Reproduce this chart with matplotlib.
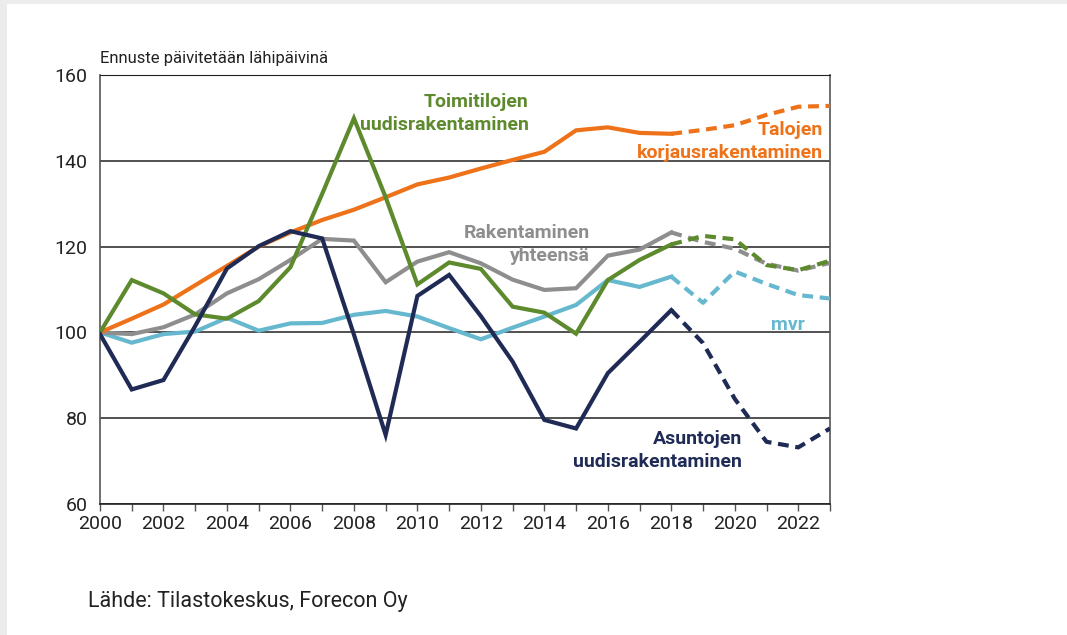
import numpy as np
import matplotlib.pyplot as plt
from matplotlib.patches import Rectangle

plt.rcParams['font.family'] = ['Roboto', 'DejaVu Sans']

# data, index 2000 = 100
years = list(range(2000, 2024))
last_actual = 2018

talojen_korjaus = [100, 103.2, 106.5, 111, 115.5, 120, 123.3, 126.2, 128.6, 131.5,
                   134.5, 136.1, 138.2, 140.2, 142.1, 147.1, 147.8, 146.5, 146.3,
                   147.2, 148.3, 150.7, 152.6, 152.8]
toimitilojen = [100, 112.2, 109.1, 104.2, 103.2, 107.3, 115.2, 132.3, 149.9, 131.5,
                111.2, 116.3, 114.8, 106.0, 104.6, 99.7, 112.2, 116.9, 120.5,
                122.5, 121.7, 115.7, 114.5, 116.7]
yhteensa = [100, 99.6, 101.2, 104.2, 109.1, 112.4, 116.9, 121.8, 121.4, 111.7,
            116.5, 118.7, 116.1, 112.3, 109.9, 110.3, 117.9, 119.3, 123.3,
            121.1, 119.5, 116.0, 114.4, 116.2]
mvr = [100, 97.6, 99.6, 100.2, 103.4, 100.4, 102.1, 102.2, 104.1, 105.0,
       103.7, 101.0, 98.4, 101.1, 103.7, 106.4, 112.2, 110.6, 113.0,
       106.9, 114.2, 111.3, 108.7, 107.9]
asuntojen = [99.6, 86.7, 88.9, 101.5, 114.9, 120.1, 123.6, 121.9, 99.5, 76.1,
             108.5, 113.4, 103.8, 93.2, 79.6, 77.6, 90.5, 97.8, 105.2,
             97.5, 84.5, 74.5, 73.2, 77.6]

series = [
    (mvr, '#66b8cf'),
    (yhteensa, '#8e8e8e'),
    (talojen_korjaus, '#ee7219'),
    (toimitilojen, '#5e8a2e'),
    (asuntojen, '#1f2b55'),
]

fig = plt.figure(figsize=(10.67, 6.35), dpi=100)
fig.patch.set_facecolor('#ececec')
bg = Rectangle((7 / 1067, 0), 1, 1 - 4 / 635, transform=fig.transFigure,
               facecolor='white', edgecolor='none', zorder=-10)
fig.add_artist(bg)

ax = fig.add_axes([100 / 1067, 1 - 504 / 635, 730 / 1067, 429 / 635])
ax.set_facecolor('white')

x = np.array(years)
k = years.index(last_actual)
for vals, col in series:
    v = np.array(vals)
    ax.plot(x[:k + 1], v[:k + 1], color=col, lw=3, solid_joinstyle='miter', zorder=3)
    ax.plot(x[k:], v[k:], color=col, lw=3, dashes=(2.6, 1.6), zorder=3)

ax.set_xlim(2000, 2023)
ax.set_ylim(60, 160)
ax.set_yticks([60, 80, 100, 120, 140, 160])
ax.set_xticks(range(2000, 2023, 2))
ax.set_xticks(range(2000, 2024), minor=True)
ax.grid(axis='y', color='#222222', lw=1.1, zorder=1)
ax.tick_params(axis='y', length=0, labelsize=14, pad=9, colors='#222222')
ax.tick_params(axis='x', which='both', length=5, width=1, color='#555555',
               labelsize=14, pad=3, labelcolor='#222222')
for s in ['left', 'right', 'bottom']:
    ax.spines[s].set_color('#555555')
    ax.spines[s].set_linewidth(1.2)
ax.spines['top'].set_color('#222222')
ax.spines['bottom'].set_color('#222222')

# series labels
bold = dict(fontsize=14, fontweight='bold', linespacing=1.35, ha='right', va='center')
ax.text(2013.5, 151.0, 'Toimitilojen\nuudisrakentaminen', color='#5e8a2e', **bold)
ax.text(2022.78, 144.5, 'Talojen\nkorjausrakentaminen', color='#ee7219', **bold)
ax.text(2015.44, 120.5, 'Rakentaminen\nyhteensä', color='#8e8e8e', **bold)
ax.text(2022.2, 101.7, 'mvr', color='#66b8cf', **bold)
ax.text(2020.23, 72.4, 'Asuntojen\nuudisrakentaminen', color='#1f2b55', **bold)

fig.text(100 / 1067, 1 - 58 / 635, 'Ennuste päivitetään lähipäivinä', fontsize=12,
         color='#222222', ha='left', va='center')
fig.text(88 / 1067, 1 - 602 / 635, 'Lähde: Tilastokeskus, Forecon Oy', fontsize=15.5,
         color='#222222', ha='left', va='center')

fig.savefig('out.png', dpi=100, facecolor=fig.get_facecolor())
